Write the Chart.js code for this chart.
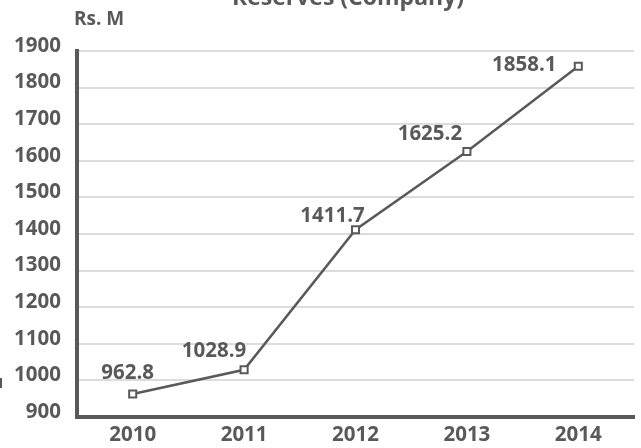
<!DOCTYPE html>
<html>
<head>
<meta charset="utf-8">
<script src="https://cdn.jsdelivr.net/npm/chart.js@4"></script>
<style>
  html, body { margin: 0; padding: 0; background: #fff; }
  .chart-box { position: relative; width: 641px; height: 448px; }
</style>
</head>
<body>
<div class="chart-box"><canvas id="reservesChart"></canvas></div>
<script>
// data
const years = ['2010', '2011', '2012', '2013', '2014'];
const reserves = [962.8, 1028.9, 1411.7, 1625.2, 1858.1];
const yTicks = [900, 1000, 1100, 1200, 1300, 1400, 1500, 1600, 1700, 1800, 1900];

const grey = '#595959';
const fontFamily = '"Open Sans", "DejaVu Sans", sans-serif';

// label offsets from each point (placed by hand in the original)
const labelShift = [[-5, -21], [-30, -19], [-23, -14], [-37, -17], [-54, -1]];

const extras = {
    id: 'extras',
    afterDatasetsDraw(chart) {
        const ctx = chart.ctx;
        ctx.save();
        ctx.fillStyle = grey;
        ctx.font = 'bold 23px ' + fontFamily;
        ctx.textAlign = 'center';
        ctx.textBaseline = 'alphabetic';
        ctx.fillText('Reserves (Company)', 348, 5);

        ctx.font = 'bold 19px ' + fontFamily;
        ctx.textAlign = 'left';
        ctx.fillText('Rs. M', 74, 25);

        // value labels
        ctx.font = 'bold 20.5px ' + fontFamily;
        ctx.textAlign = 'center';
        ctx.textBaseline = 'middle';
        const meta = chart.getDatasetMeta(0);
        meta.data.forEach((pt, i) => {
            const s = labelShift[i];
            ctx.fillText(String(reserves[i]), pt.x + s[0], pt.y + s[1]);
        });

        // small stray mark at the left edge
        ctx.fillRect(0, 378, 2, 10);
        ctx.restore();
    }
};

document.addEventListener('DOMContentLoaded', () => {
    const ctx = document.getElementById('reservesChart').getContext('2d');
    new Chart(ctx, {
        type: 'line',
        data: {
            labels: years,
            datasets: [{
                data: reserves,
                borderColor: grey,
                borderWidth: 2.5,
                pointStyle: 'rect',
                pointRadius: 5,
                pointBorderWidth: 2,
                pointBorderColor: grey,
                pointBackgroundColor: '#ffffff',
                tension: 0
            }]
        },
        options: {
            responsive: true,
            maintainAspectRatio: false,
            animation: false,
            layout: { padding: { top: 51, right: 5, left: 0, bottom: 0 } },
            plugins: {
                legend: { display: false },
                tooltip: { enabled: false },
                title: { display: false }
            },
            scales: {
                x: {
                    offset: true,
                    grid: { display: false, drawTicks: false },
                    border: { display: true, color: grey, width: 4 },
                    ticks: {
                        color: grey,
                        padding: 6,
                        font: { family: fontFamily, size: 20.5, weight: 'bold' }
                    },
                    afterFit(scale) { scale.height = 31; }
                },
                y: {
                    min: 900,
                    max: 1900,
                    afterBuildTicks(scale) {
                        scale.ticks = yTicks.map(v => ({ value: v }));
                    },
                    grid: { color: '#dcdcdc', lineWidth: 2, drawTicks: false },
                    border: { display: true, color: grey, width: 4 },
                    ticks: {
                        color: grey,
                        padding: 16,
                        labelOffset: -5,
                        callback: v => String(v),
                        font: { family: fontFamily, size: 20.5, weight: 'bold' }
                    },
                    afterFit(scale) { scale.width = 77; }
                }
            }
        },
        plugins: [extras]
    });
});
</script>
</body>
</html>
